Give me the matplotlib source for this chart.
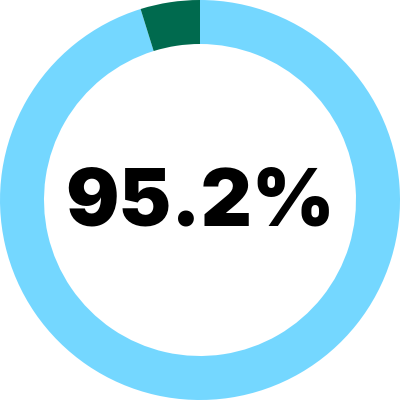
import matplotlib
matplotlib.use('Agg')
import matplotlib.pyplot as plt

# Data
labels = ['Yes', 'No']
values = [95.2, 4.8]
colors = ['#74d7ff', '#006a4e']
center_label = '95.2%'

fig, ax = plt.subplots(figsize=(4, 4), dpi=100)
fig.subplots_adjust(left=0, right=1, bottom=0, top=1)

ax.pie(values, colors=colors, startangle=90, counterclock=False,
       radius=1.0, wedgeprops={'width': 0.22, 'linewidth': 0})
ax.set_xlim(-1, 1)
ax.set_ylim(-1, 1)
ax.set_aspect('equal')

ax.text(0, -0.125, center_label, ha='center', va='baseline',
        fontsize=57, fontweight='black', family=['Inter', 'DejaVu Sans'],
        color='black')

ax.axis('off')
fig.savefig('out.png', dpi=100, facecolor='white')
